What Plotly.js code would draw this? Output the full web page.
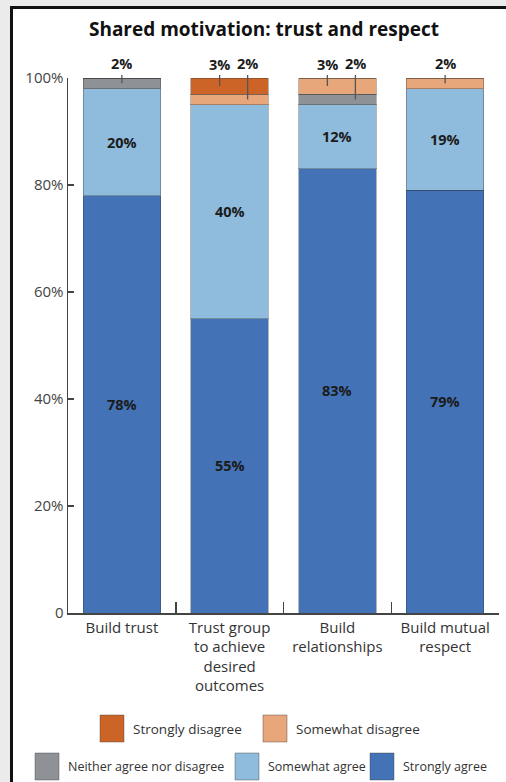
<!DOCTYPE html>
<html>
<head>
<meta charset="utf-8">
<script src="https://cdn.plot.ly/plotly-3.0.1.min.js"></script>
<style>
  html, body { margin:0; padding:0; background:#ebebeb; width:506px; height:782px; overflow:hidden; }
  #panel { position:absolute; left:10px; top:6px; width:620px; height:900px; background:#fff; border:3px solid #111; box-sizing:border-box; }
  #chart { position:absolute; left:0; top:0; width:506px; height:782px; }
</style>
</head>
<body>
<div id="panel"></div>
<div id="chart"></div>
<script>
// ---- data ----
const categories = ["Build trust", "Trust group to achieve desired outcomes", "Build relationships", "Build mutual respect"];
const tickLabels = ["Build trust", "Trust group<br>to achieve<br>desired<br>outcomes", "Build<br>relationships", "Build mutual<br>respect"];
const stronglyAgree    = [78, 55, 83, 79];
const somewhatAgree    = [20, 40, 12, 19];
const neitherAgree     = [2, 0, 2, 0];
const somewhatDisagree = [0, 2, 3, 2];
const stronglyDisagree = [0, 3, 0, 0];
const seriesNames  = ["Strongly agree", "Somewhat agree", "Neither agree nor disagree", "Somewhat disagree", "Strongly disagree"];
const seriesColors = ["#4373b6", "#8fbcdc", "#8e9196", "#e8a67b", "#cd6427"];
const yTickVals = [0, 20, 40, 60, 80, 100];
const yTickText = ["0", "20%", "40%", "60%", "80%", "100%"];

// ---- layout geometry ----
const W = 506, Hh = 782;
const L = 68, R = 7, T = 78, B = 169;
const PW = W - L - R, PH = Hh - T - B;
const px2x = px => (px - L) / PW;
const py2y = py => (T + PH - py) / PH;
const valToPy = v => T + PH * (1 - v / 100);

const seriesValues = [stronglyAgree, somewhatAgree, neitherAgree, somewhatDisagree, stronglyDisagree];

const traces = seriesValues.map((vals, i) => ({
  type: 'bar',
  name: seriesNames[i],
  x: categories,
  y: vals,
  marker: { color: seriesColors[i], line: { color: 'rgba(50,50,50,0.35)', width: 1 } },
  hoverinfo: 'none',
  showlegend: false
}));

const annotations = [];
const labelFont = { family: 'Open Sans, sans-serif', size: 14.5, color: '#1b1b1b', weight: 700 };
categories.forEach((cat, ci) => {
  let cum = 0;
  const small = [];
  seriesValues.forEach((vals, si) => {
    const v = vals[ci];
    if (v > 0) {
      const mid = cum + v / 2;
      if (v >= 5) {
        annotations.push({ x: cat, y: mid, xref: 'x', yref: 'y', text: v + '%', showarrow: false, font: labelFont });
      } else {
        small.push({ v, mid });
      }
    }
    cum += v;
  });
  small.reverse();
  const shifts = small.length > 1 ? [-10, 18] : [0];
  small.forEach((s, k) => {
    annotations.push({
      x: cat, y: s.mid, xref: 'x', yref: 'y', text: s.v + '%',
      showarrow: true, arrowhead: 0, arrowwidth: 1.3, arrowcolor: '#555',
      ax: 0, ay: 64 - valToPy(s.mid), standoff: 0, xshift: shifts[k],
      font: labelFont
    });
  });
});

// ---- custom legend ----
const shapes = [];
const legendRows = [
  { items: [4, 3], xs: [100, 263], top: 715, size: 13.5 },
  { items: [2, 1, 0], xs: [35, 235, 370], top: 753, size: 12.5 }
];
legendRows.forEach(row => {
  row.items.forEach((si, k) => {
    const x0 = row.xs[k];
    shapes.push({
      type: 'rect', xref: 'paper', yref: 'paper',
      x0: px2x(x0), x1: px2x(x0 + 24), y0: py2y(row.top + 27), y1: py2y(row.top),
      fillcolor: seriesColors[si], line: { color: 'rgba(60,60,60,0.4)', width: 1 }
    });
    annotations.push({
      xref: 'paper', yref: 'paper', x: px2x(x0 + 31), y: py2y(row.top + 13.5),
      xanchor: 'left', yanchor: 'middle', showarrow: false, text: seriesNames[si],
      font: { family: 'Open Sans, sans-serif', size: row.size, color: '#333' }
    });
  });
});

const layout = {
  width: W, height: Hh,
  margin: { l: L, r: R, t: T, b: B, pad: 0 },
  paper_bgcolor: 'rgba(0,0,0,0)',
  plot_bgcolor: 'rgba(0,0,0,0)',
  barmode: 'stack',
  bargap: 0.28,
  title: {
    text: 'Shared motivation: trust and respect',
    xref: 'container', yref: 'container', x: 264 / W, y: 1 - 29 / Hh,
    xanchor: 'center', yanchor: 'middle',
    font: { family: 'Open Sans, sans-serif', size: 19, color: '#111', weight: 700 }
  },
  xaxis: {
    type: 'category', tickmode: 'array', tickvals: categories, ticktext: tickLabels,
    range: [-0.5, 3.5], tickson: 'boundaries', ticks: 'inside', ticklen: 11, tickwidth: 1.5, tickcolor: '#444',
    showline: true, linecolor: '#444', linewidth: 1.5, showgrid: false, zeroline: false,
    tickfont: { family: 'Open Sans, sans-serif', size: 15, color: '#333' }, fixedrange: true
  },
  yaxis: {
    range: [0, 100], tickmode: 'array', tickvals: yTickVals, ticktext: yTickText,
    ticks: 'inside', ticklen: 6, tickwidth: 1.5, tickcolor: '#444',
    showline: true, linecolor: '#444', linewidth: 1.5, showgrid: false, zeroline: false,
    tickfont: { family: 'Open Sans, sans-serif', size: 15, color: '#444' }, fixedrange: true
  },
  annotations, shapes,
  showlegend: false
};

Plotly.newPlot('chart', traces, layout, { displayModeBar: false, staticPlot: true });
</script>
</body>
</html>
